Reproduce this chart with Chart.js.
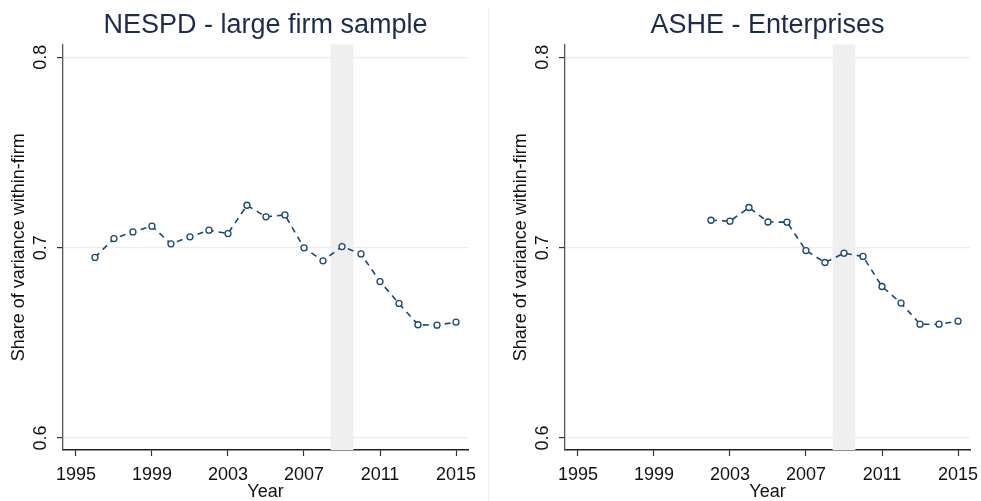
<!DOCTYPE html>
<html>
<head>
<meta charset="utf-8">
<script src="https://cdn.jsdelivr.net/npm/chart.js@4.4.1/dist/chart.umd.min.js"></script>
<style>
  html, body { margin: 0; padding: 0; background: #fff; overflow: hidden; }
  #wrap { position: relative; width: 981px; height: 501px; overflow: hidden; }
  .panel { position: absolute; top: 0; }
  #sep { position: absolute; left: 488px; top: 8px; width: 1px; height: 493px; background: #e4ecf0; }
</style>
</head>
<body>
<div id="wrap">
  <canvas id="nespdChart" class="panel" style="left:0px" width="490" height="501"></canvas>
  <div id="sep"></div>
  <canvas id="asheChart" class="panel" style="left:502px" width="490" height="501"></canvas>
</div>
<script>
// Datos
const nespdYears = [1996, 1997, 1998, 1999, 2000, 2001, 2002, 2003, 2004, 2005, 2006, 2007, 2008, 2009, 2010, 2011, 2012, 2013, 2014, 2015];
const nespdShare = [0.6949, 0.7048, 0.7083, 0.7113, 0.7020, 0.7057, 0.7092, 0.7074, 0.7223, 0.7162, 0.7172, 0.6999, 0.6931, 0.7006, 0.6967, 0.6822, 0.6707, 0.6595, 0.6593, 0.6609];

const asheYears = [2002, 2003, 2004, 2005, 2006, 2007, 2008, 2009, 2010, 2011, 2012, 2013, 2014, 2015];
const asheShare = [0.7144, 0.7139, 0.7211, 0.7135, 0.7134, 0.6985, 0.6922, 0.6971, 0.6954, 0.6796, 0.6709, 0.6598, 0.6598, 0.6614];

const yearTicks = [1995, 1999, 2003, 2007, 2011, 2015];
const shareTicks = [0.6, 0.7, 0.8];
const recessionBand = [2008.4, 2009.6];

const FONT = "'Liberation Sans', Arial, sans-serif";
const LINE_COLOR = "#1a476f";

// Banda gris de la recesion
const bandPlugin = {
  id: "band",
  beforeDatasetsDraw(chart) {
    const { ctx, chartArea } = chart;
    const x = chart.scales.x;
    const x0 = x.getPixelForValue(recessionBand[0]);
    const x1 = x.getPixelForValue(recessionBand[1]);
    ctx.save();
    ctx.fillStyle = "#efefef";
    ctx.fillRect(x0, chartArea.top, x1 - x0, chartArea.bottom - chartArea.top);
    ctx.restore();
  }
};

// Etiquetas del eje y giradas 90 grados
const yLabelPlugin = {
  id: "yLabels",
  afterDraw(chart) {
    const { ctx } = chart;
    const y = chart.scales.y;
    ctx.save();
    ctx.font = "18px " + FONT;
    ctx.fillStyle = "#111";
    ctx.textAlign = "center";
    ctx.textBaseline = "middle";
    shareTicks.forEach(v => {
      ctx.save();
      ctx.translate(y.right - 22, y.getPixelForValue(v));
      ctx.rotate(-Math.PI / 2);
      ctx.fillText(v.toFixed(1), 0, 0);
      ctx.restore();
    });
    ctx.restore();
  }
};

function crearGrafico(id, titulo, years, values) {
  const ctx = document.getElementById(id);
  return new Chart(ctx, {
    type: "line",
    data: {
      datasets: [{
        data: years.map((yr, i) => ({ x: yr, y: values[i] })),
        borderColor: LINE_COLOR,
        borderWidth: 1.6,
        borderDash: [6, 5],
        pointRadius: 3,
        pointBackgroundColor: "#fff",
        pointBorderColor: LINE_COLOR,
        pointBorderWidth: 1.3,
        tension: 0,
        fill: false
      }]
    },
    options: {
      responsive: false,
      animation: false,
      devicePixelRatio: 1,
      layout: { padding: { left: 0, right: 22, top: 0, bottom: 0 } },
      plugins: {
        legend: { display: false },
        tooltip: { enabled: false },
        title: {
          display: true,
          text: titulo,
          fullSize: false,
          color: "#1c2b4e",
          font: { family: FONT, size: 27, weight: "normal", lineHeight: 1.2 },
          padding: { top: 9, bottom: 3 }
        }
      },
      scales: {
        x: {
          type: "linear",
          min: 1994.32,
          max: 2015.63,
          afterBuildTicks: s => { s.ticks = yearTicks.map(v => ({ value: v })); },
          afterFit: s => { s.height = 51; },
          ticks: {
            autoSkip: false,
            maxRotation: 0,
            padding: 8,
            color: "#111",
            font: { family: FONT, size: 18 },
            callback: v => String(v)
          },
          grid: { drawOnChartArea: false, drawTicks: true, tickLength: 6, tickColor: "#333", tickWidth: 1.2 },
          border: { display: true, color: "#222", width: 1.5 },
          title: {
            display: true,
            text: "Year",
            color: "#111",
            font: { family: FONT, size: 18, lineHeight: 1 },
            padding: { top: 0, bottom: 0 }
          }
        },
        y: {
          min: 0.5937,
          max: 0.8068,
          afterBuildTicks: s => { s.ticks = shareTicks.map(v => ({ value: v })); },
          afterFit: s => { s.width = 63; },
          ticks: { display: false },
          grid: { color: "#e5eff2", lineWidth: 1.2, drawTicks: true, tickLength: 6, tickColor: "#333", tickWidth: 1.2 },
          border: { display: true, color: "#555", width: 1.3 },
          title: {
            display: true,
            text: "Share of variance within-firm",
            color: "#111",
            font: { family: FONT, size: 18, lineHeight: 1.2 },
            padding: { top: 8, bottom: 0 }
          }
        }
      }
    },
    plugins: [bandPlugin, yLabelPlugin]
  });
}

crearGrafico("nespdChart", "NESPD - large firm sample", nespdYears, nespdShare);
crearGrafico("asheChart", "ASHE - Enterprises", asheYears, asheShare);
</script>
</body>
</html>
